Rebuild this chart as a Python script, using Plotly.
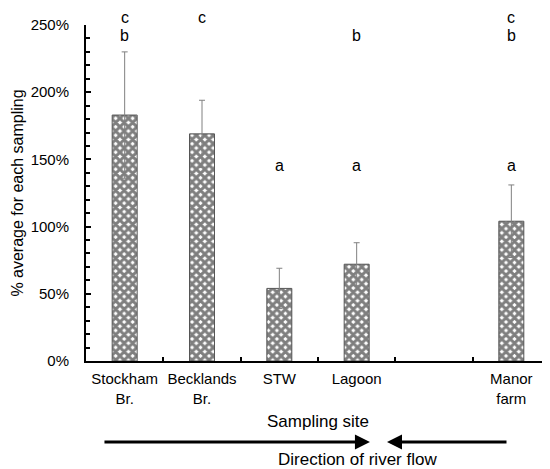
import plotly.graph_objects as go

sites = ["Stockham<br>Br.", "Becklands<br>Br.", "STW", "Lagoon", " ", "Manor<br>farm"]
values = [183, 169, 54, 72, None, 104]
errors = [47, 25, 15, 16, None, 27]
letters_top = ["c", "c", "", "", "", "c"]
letters_mid = ["b", "", "", "b", "", "b"]
letters_low = ["", "", "a", "a", "", "a"]
y_ticks = [0, 50, 100, 150, 200, 250]

FONT = "Arial, Liberation Sans, sans-serif"

fig = go.Figure()
fig.add_trace(go.Bar(
    x=sites, y=values,
    marker=dict(color="white", line=dict(color="#555555", width=1),
                pattern=dict(shape="x", size=6, solidity=0.75,
                             fgcolor="black", bgcolor="white", fillmode="overlay")),
    error_y=dict(type="data", array=errors, visible=True, color="#808080",
                 thickness=1, width=3),
    width=0.323,
))

# significance letters (paper y so they may sit above the axis range)
for row, ypos in ((letters_top, 1.0238), (letters_mid, 0.9688), (letters_low, 0.582)):
    for s, t in zip(sites, row):
        if t:
            fig.add_annotation(x=s, y=ypos, xref="x", yref="paper", text=t,
                               yanchor="middle", xanchor="center",
                               showarrow=False, font=dict(size=16, family=FONT, color="black"))

# river-flow arrows and caption
fig.add_annotation(x=0.612, y=-0.241, xref="paper", yref="paper",
                   ax=-267, ay=0, text="", showarrow=True, arrowhead=2,
                   arrowwidth=3, arrowsize=1, arrowcolor="black")
fig.add_annotation(x=0.6487, y=-0.241, xref="paper", yref="paper",
                   ax=121, ay=0, text="", showarrow=True, arrowhead=2,
                   arrowwidth=3, arrowsize=1, arrowcolor="black")
fig.add_annotation(x=0.585, y=-0.2917, xref="paper", yref="paper",
                   yanchor="middle", xanchor="center",
                   text="Direction of river flow", showarrow=False,
                   font=dict(size=17, family=FONT, color="black"))

# page body has an 8px margin, so the figure is sized to fill the rest of the window
fig.update_layout(
    width=542, height=461,
    margin=dict(l=78, r=0, t=17, b=108),
    plot_bgcolor="white", paper_bgcolor="white",
    showlegend=False,
    font=dict(family=FONT, size=15, color="black"),
)
fig.update_xaxes(
    type="category", categoryorder="array", categoryarray=sites,
    tickson="boundaries", ticks="inside", ticklen=4, tickwidth=1.5, tickcolor="black",
    showline=True, linecolor="black", linewidth=2, showgrid=False,
    title=dict(text="Sampling site", font=dict(size=17, family=FONT), standoff=10),
    tickfont=dict(size=15, family=FONT),
    tickangle=0,
    ticklabelstandoff=3,
    automargin=False,
)
fig.update_yaxes(
    range=[0, 250], tickvals=y_ticks, ticktext=[f"{v}%" for v in y_ticks],
    ticks="inside", ticklen=5, tickwidth=1.5, tickcolor="black",
    minor=dict(dtick=10, ticks="inside", ticklen=4, tickwidth=1.5, tickcolor="black"),
    showline=True, linecolor="black", linewidth=2, showgrid=False, zeroline=False,
    title=dict(text="% average for each sampling", font=dict(size=16, family=FONT), standoff=3),
    tickfont=dict(size=15, family=FONT),
    ticklabelstandoff=12,
    automargin=False,
)

fig.write_html("out.html")
